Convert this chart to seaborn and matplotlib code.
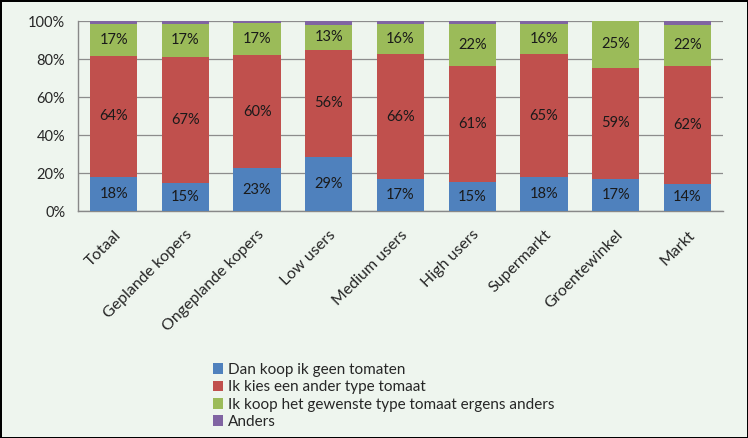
import numpy as np
import pandas as pd
import matplotlib
matplotlib.use("Agg")
import matplotlib.pyplot as plt
from matplotlib.patches import Patch
import seaborn as sns

# data (shares in %)
categories = ["Totaal", "Geplande kopers", "Ongeplande kopers", "Low users",
              "Medium users", "High users", "Supermarkt", "Groentewinkel", "Markt"]
geen_tomaten = [18.2, 14.7, 22.6, 28.6, 16.8, 15.1, 17.9, 16.8, 14.4]
ander_type = [63.6, 66.6, 59.6, 56.2, 65.8, 61.0, 64.6, 58.6, 62.0]
ergens_anders = [16.6, 17.0, 16.6, 13.3, 15.6, 22.2, 15.8, 24.6, 21.6]
anders = [1.6, 1.7, 1.2, 1.9, 1.8, 1.7, 1.7, 0.0, 2.0]

series_names = ["Dan koop ik geen tomaten", "Ik kies een ander type tomaat",
                "Ik koop het gewenste type tomaat ergens anders", "Anders"]
series_values = [geen_tomaten, ander_type, ergens_anders, anders]
COLORS = ["#4F81BD", "#C0504D", "#9BBB59", "#8064A2"]
BG = "#EEF5EE"

sns.set_style("white")
plt.rcParams["font.family"] = ["Lato", "DejaVu Sans"]

fig = plt.figure(figsize=(7.48, 4.38), dpi=100, facecolor=BG)
fig.patch.set_edgecolor("black")
fig.patch.set_linewidth(2)
ax = fig.add_axes([0.104, 0.518, 0.863, 0.434])
ax.set_facecolor(BG)

bottom = np.zeros(len(categories))
for name, vals, col in zip(series_names, series_values, COLORS):
    df = pd.DataFrame({"cat": categories, "val": vals})
    sns.barplot(data=df, x="cat", y="val", order=categories, color=col,
                width=0.66, bottom=bottom.copy(), ax=ax, saturation=1,
                errorbar=None, linewidth=0, zorder=3)
    bottom += np.array(vals)

# labels on the first three series
for cont in ax.containers[:3]:
    labels = [f"{round(b.get_height()):d}%" for b in cont]
    ax.bar_label(cont, labels=labels, label_type="center", fontsize=10.5,
                 color="#1a1a1a")

ax.set_xlim(-0.5, len(categories) - 0.5)
ax.set_ylim(0, 100)
ax.set_yticks(range(0, 101, 20))
ax.set_yticklabels([f"{v}%" for v in range(0, 101, 20)], fontsize=10.5)
ax.yaxis.grid(True, color="#8C8C8C", linewidth=0.9, zorder=0)
ax.set_axisbelow(True)
ax.set_xlabel("")
ax.set_ylabel("")

ax.set_xticks(range(len(categories)))
ax.set_xticklabels(categories, rotation=45, ha="right", rotation_mode="anchor",
                   fontsize=11.5)
ax.set_xticks(np.arange(-0.5, len(categories), 1.0), minor=True)
ax.tick_params(axis="x", which="major", length=0, pad=12)
ax.tick_params(axis="x", which="minor", length=5, color="#888888", direction="out")
ax.tick_params(axis="y", length=5, color="#888888", direction="out", pad=4)

for s in ["top", "right"]:
    ax.spines[s].set_visible(False)
for s in ["left", "bottom"]:
    ax.spines[s].set_color("#888888")
    ax.spines[s].set_linewidth(1.0)

handles = [Patch(facecolor=c, edgecolor="none") for c in COLORS]
fig.legend(handles, series_names, loc="upper left", bbox_to_anchor=(0.276, 0.185),
           frameon=False, fontsize=11, handlelength=0.7, handleheight=0.7,
           handletextpad=0.3, labelspacing=0.22, borderaxespad=0)

fig.savefig("out.png", dpi=100, facecolor=BG, edgecolor="black")
